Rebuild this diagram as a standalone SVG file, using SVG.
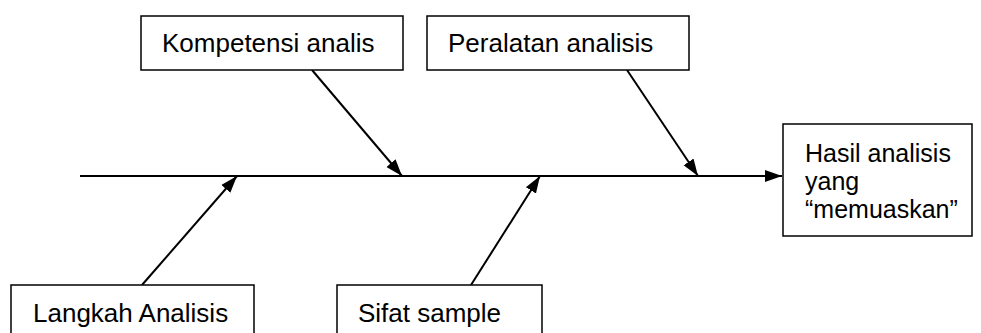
<svg xmlns="http://www.w3.org/2000/svg" width="981" height="333" viewBox="0 0 981 333">
<style>
.box{fill:#fff;stroke:#000;stroke-width:1.5}
.t{font-family:"Liberation Sans",Arial,sans-serif;font-size:26px;fill:#000}
.c{stroke:#000;stroke-width:2;fill:none}
</style>
<defs>
<marker id="ah2" viewBox="0 0 10 10" refX="10" refY="5" markerWidth="17" markerHeight="17" markerUnits="userSpaceOnUse" orient="auto">
<path d="M0,1.5 L10,5 L0,8.5 z" fill="#000"/>
</marker>
</defs>
<rect width="981" height="333" fill="#fff"/>
<g id="connectors">
<line class="c" x1="80" y1="176" x2="782" y2="176" marker-end="url(#ah2)"/>
<line class="c" x1="312" y1="70" x2="402" y2="176" marker-end="url(#ah2)"/>
<line class="c" x1="627" y1="70" x2="698" y2="176" marker-end="url(#ah2)"/>
<line class="c" x1="142" y1="285" x2="237" y2="176" marker-end="url(#ah2)"/>
<line class="c" x1="471" y1="285" x2="540" y2="176" marker-end="url(#ah2)"/>
</g>
<g id="kompetensi">
<rect class="box" x="141" y="16" width="262" height="54"/>
<text class="t" x="162" y="52">Kompetensi analis</text>
</g>
<g id="peralatan">
<rect class="box" x="427" y="16" width="262" height="54"/>
<text class="t" x="448" y="52">Peralatan analisis</text>
</g>
<g id="hasil">
<rect class="box" x="783" y="124" width="189" height="112"/>
<text class="t" x="805" y="162" style="font-size:25px">Hasil analisis</text>
<text class="t" x="805" y="190" style="font-size:25px">yang</text>
<text class="t" x="805" y="218" style="font-size:25px">“memuaskan”</text>
</g>
<g id="langkah">
<rect class="box" x="11" y="285" width="243" height="60"/>
<text class="t" x="33" y="322">Langkah Analisis</text>
</g>
<g id="sifat">
<rect class="box" x="337" y="285" width="205" height="60"/>
<text class="t" x="358" y="322">Sifat sample</text>
</g>
</svg>
